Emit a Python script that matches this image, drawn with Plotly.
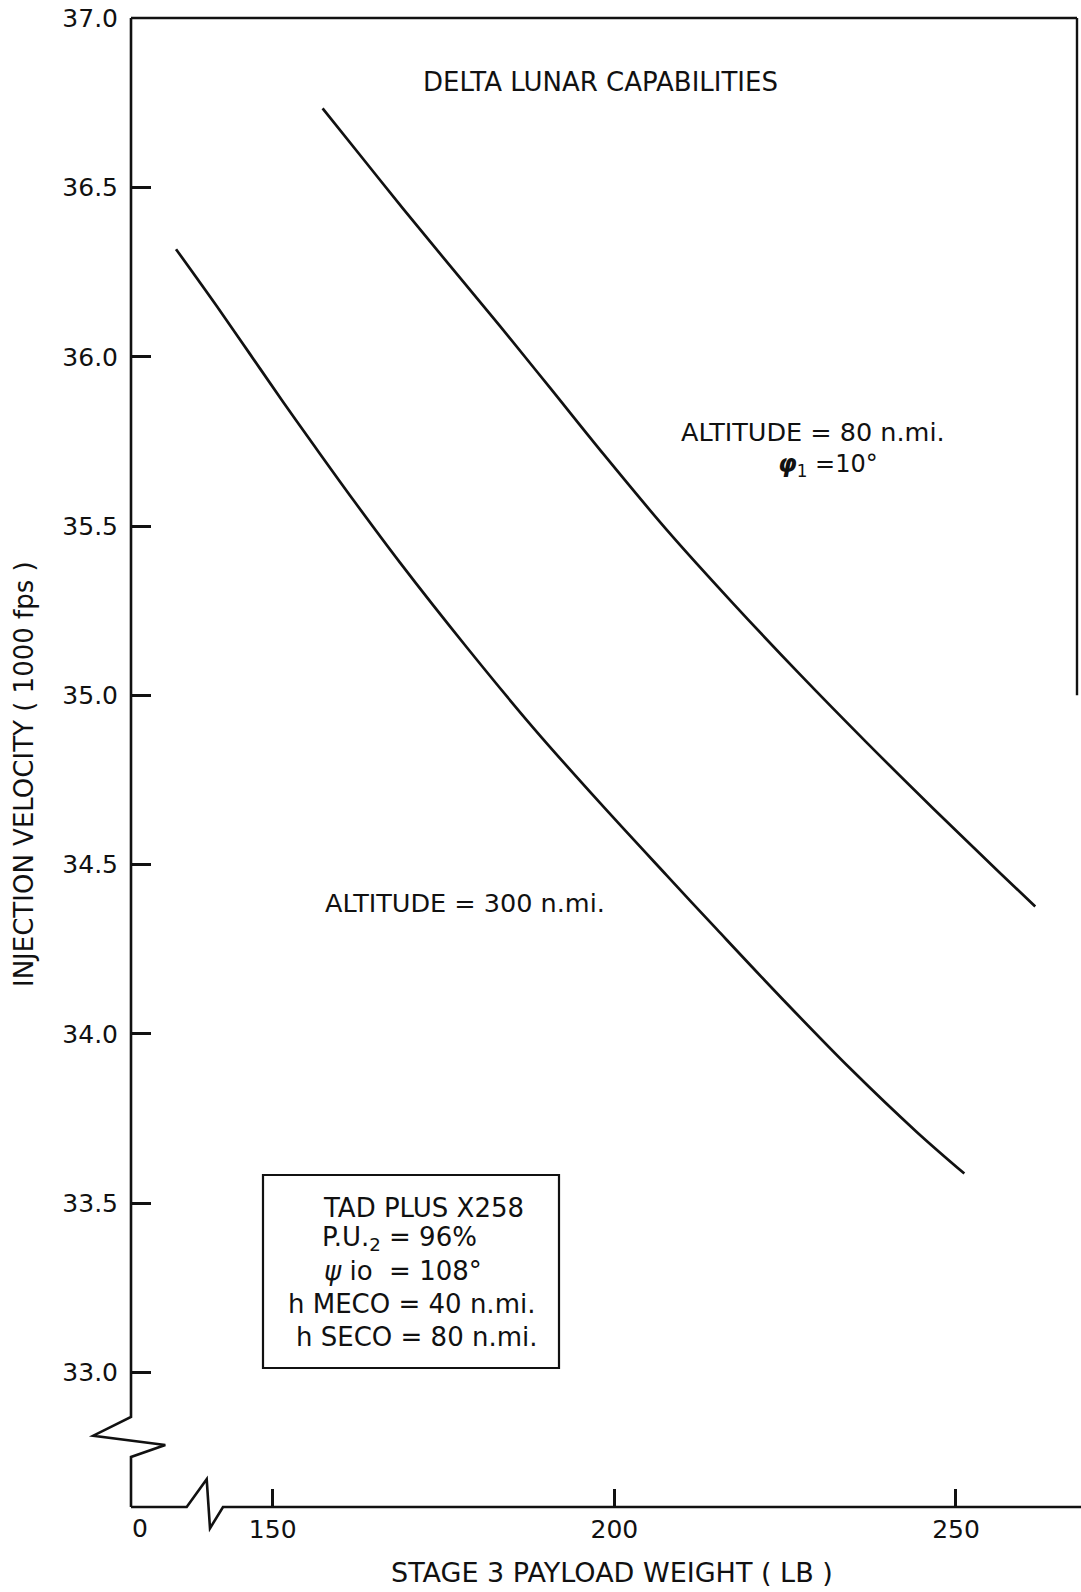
import plotly.graph_objects as go

# ---------------- data ----------------
# Upper curve: ALTITUDE = 80 n.mi., phi1 = 10 deg
upper_payload_lb = [157.3, 163.3, 169.1, 176.0, 183.3, 190.6, 197.9, 207.7,
                    217.4, 227.2, 236.9, 246.7, 256.4, 261.6]
upper_velocity = [36.734, 36.583, 36.437, 36.268, 36.090, 35.908, 35.725, 35.488,
                  35.271, 35.061, 34.861, 34.665, 34.476, 34.376]

# Lower curve: ALTITUDE = 300 n.mi.
lower_payload_lb = [135.85, 141.8, 146.68, 151.55, 156.44, 161.8, 168.63, 178.39,
                    188.14, 197.9, 207.66, 214.98, 224.73, 234.49, 244.25, 251.22]
lower_velocity = [36.318, 36.150, 36.008, 35.866, 35.727, 35.577, 35.392, 35.142,
                  34.904, 34.682, 34.468, 34.309, 34.100, 33.898, 33.710, 33.587]

x_tick_vals = [150, 200, 250]
x_tick_text = ["150", "200", "250"]
y_tick_vals = [33.0, 33.5, 34.0, 34.5, 35.0, 35.5, 36.0, 36.5, 37.0]
y_tick_text = ["33.0", "33.5", "34.0", "34.5", "35.0", "35.5", "36.0", "36.5", "37.0"]

# ---------------- layout geometry (page pixels) ----------------
W, H = 1081, 1592
PLOT_L, PLOT_R, PLOT_T, PLOT_B = 131, 1077, 18, 1507   # plot area
ML, MR, MT, MB = PLOT_L, W - PLOT_R, PLOT_T, H - PLOT_B
PW, PH = PLOT_R - PLOT_L, PLOT_B - PLOT_T
X_RANGE = [129.26, 267.71]
Y_RANGE = [32.602, 37.001]

FONT = "'DejaVu Sans', Verdana, sans-serif"
BLACK = "#111111"


def px(x):
    """pixel x -> paper x"""
    return (x - PLOT_L) / PW


def py(y):
    """pixel y -> paper y"""
    return (PLOT_B - y) / PH


def yv(v):
    """data y -> paper y"""
    return (v - Y_RANGE[0]) / (Y_RANGE[1] - Y_RANGE[0])


fig = go.Figure()
for xs, ys in [(upper_payload_lb, upper_velocity), (lower_payload_lb, lower_velocity)]:
    fig.add_trace(go.Scatter(
        x=xs, y=ys, mode="lines",
        line=dict(color=BLACK, width=2.7, shape="spline", smoothing=1.0),
        showlegend=False, hoverinfo="skip",
    ))


# axis frame with breaks (decoration)
def path(points):
    return "M " + " L ".join(f"{px(a):.5f},{py(b):.5f}" for a, b in points)


left_axis = [(PLOT_L, PLOT_T), (PLOT_L, 1417), (PLOT_L - 37.7, 1435.7),
             (PLOT_L + 34.3, 1445), (PLOT_L, 1457), (PLOT_L, PLOT_B)]
bottom_axis = [(PLOT_L, PLOT_B), (186.7, PLOT_B), (206.7, 1479.3), (210, 1528.3),
               (223, PLOT_B), (W, PLOT_B)]
shapes = [
    dict(type="path", path=path(left_axis), xref="paper", yref="paper",
         line=dict(color=BLACK, width=2.6)),
    dict(type="path", path=path(bottom_axis), xref="paper", yref="paper",
         line=dict(color=BLACK, width=2.6)),
    dict(type="line", xref="paper", yref="paper", x0=0, x1=1, y0=1, y1=1,
         line=dict(color=BLACK, width=2.6)),
    dict(type="line", xref="paper", yref="paper", x0=1, x1=1, y0=yv(35.0), y1=1,
         line=dict(color=BLACK, width=2.4)),
    dict(type="rect", xref="paper", yref="paper",
         x0=px(263), x1=px(559), y0=py(1368), y1=py(1175),
         line=dict(color=BLACK, width=2.2)),
]

ann = []


def text(t, x, y, size=25, xanchor="center", angle=0):
    ann.append(dict(text=t, x=px(x), y=py(y), xref="paper", yref="paper",
                    xanchor=xanchor, yanchor="middle", showarrow=False,
                    textangle=angle, font=dict(family=FONT, size=size, color=BLACK)))


text("DELTA LUNAR CAPABILITIES", 600, 82, size=26)
text("ALTITUDE = 80 n.mi.", 813, 432, size=25.5)
text("<b><i>φ</i></b><sub>1</sub> =10°", 828, 465, size=24)
text("ALTITUDE = 300 n.mi.", 465, 903, size=25.5)
text("TAD PLUS X258", 321, 1208, size=26, xanchor="left")
text("P.U.<sub>2</sub> = 96%", 320, 1238, size=26, xanchor="left")
text("<i>ψ</i> io  = 108°", 322, 1271, size=26, xanchor="left")
text("h MECO = 40 n.mi.", 286, 1304, size=26, xanchor="left")
text("h SECO = 80 n.mi.", 294, 1337, size=26, xanchor="left")
text("INJECTION VELOCITY ( 1000 fps )", 24, 774, size=26, angle=-90)
text("STAGE 3 PAYLOAD WEIGHT ( LB )", 612, 1572, size=27)
text("0", 140, 1528, size=25)

fig.update_layout(
    width=W, height=H,
    margin=dict(l=ML, r=MR, t=MT, b=MB, autoexpand=False),
    paper_bgcolor="white", plot_bgcolor="white",
    shapes=shapes, annotations=ann,
    xaxis=dict(range=X_RANGE, showgrid=False, zeroline=False, showline=False,
               automargin=False,
               tickvals=x_tick_vals, ticktext=x_tick_text,
               ticks="inside", ticklen=18, tickwidth=2.6, tickcolor=BLACK,
               ticklabelstandoff=5,
               tickfont=dict(family=FONT, size=25, color=BLACK)),
    yaxis=dict(range=Y_RANGE, showgrid=False, zeroline=False, showline=False,
               automargin=False,
               tickvals=y_tick_vals, ticktext=y_tick_text,
               ticks="inside", ticklen=20, tickwidth=2.6, tickcolor=BLACK,
               ticklabelstandoff=12, ticklabeloverflow="allow",
               tickfont=dict(family=FONT, size=25, color=BLACK)),
)

fig.write_html(
    "out.html",
    config={"displayModeBar": False},
    post_script="document.body.style.margin='0';document.body.style.overflow='hidden';",
)
